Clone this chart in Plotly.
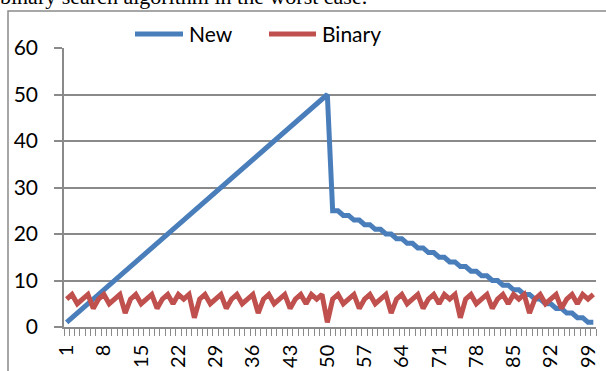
import plotly.graph_objects as go

# Position of the searched key in a sorted array of 100 elements
positions = list(range(1, 101))

# Worst-case comparisons of the proposed ("New") search
new_cmp = [
    1, 2, 3, 4, 5, 6, 7, 8, 9, 10,
    11, 12, 13, 14, 15, 16, 17, 18, 19, 20,
    21, 22, 23, 24, 25, 26, 27, 28, 29, 30,
    31, 32, 33, 34, 35, 36, 37, 38, 39, 40,
    41, 42, 43, 44, 45, 46, 47, 48, 49, 50,
    25, 25, 24, 24, 23, 23, 22, 22, 21, 21,
    20, 20, 19, 19, 18, 18, 17, 17, 16, 16,
    15, 15, 14, 14, 13, 13, 12, 12, 11, 11,
    10, 10, 9, 9, 8, 8, 7, 7, 6, 6,
    5, 5, 4, 4, 3, 3, 2, 2, 1, 1,
]

# Comparisons made by binary search for the same keys
binary_cmp = [
    6, 7, 5, 6, 7, 4, 6, 7, 5, 6,
    7, 3, 6, 7, 5, 6, 7, 4, 6, 7,
    5, 7, 6, 7, 2, 6, 7, 5, 6, 7,
    4, 6, 7, 5, 6, 7, 3, 6, 7, 5,
    6, 7, 4, 6, 7, 5, 7, 6, 7, 1,
    6, 7, 5, 6, 7, 4, 6, 7, 5, 6,
    7, 3, 6, 7, 5, 6, 7, 4, 6, 7,
    5, 7, 6, 7, 2, 6, 7, 5, 6, 7,
    4, 6, 7, 5, 7, 6, 7, 3, 6, 7,
    5, 6, 7, 4, 6, 7, 5, 7, 6, 7,
]

series_names = ["New", "Binary"]
series_colors = ["#4A7EBB", "#C0504D"]

x_tick_vals = positions[::7]
x_tick_text = [str(v) for v in x_tick_vals]
y_ticks = [0, 10, 20, 30, 40, 50, 60]

W, H = 606, 371
L, R, T, B = 64, 10, 48, 44
PW, PH = W - L - R, H - T - B

def px(X):
    return (X - L) / PW

def py(Y):
    return (H - B - Y) / PH

FONT = "Lato, 'Open Sans', sans-serif"
GRAY = "#8A8A8A"

fig = go.Figure()
for name, vals, col in zip(series_names, [new_cmp, binary_cmp], series_colors):
    fig.add_trace(go.Scatter(
        x=positions, y=vals, mode="lines", name=name,
        line=dict(color=col, width=5), showlegend=False,
    ))

shapes = []
annotations = []

# legend drawn as line samples plus labels
legend_items = [(135, 183, 187), (269, 316, 320)]
for (x0, x1, xt), name, col in zip(legend_items, series_names, series_colors):
    shapes.append(dict(type="line", xref="paper", yref="paper",
                       x0=px(x0), x1=px(x1), y0=py(34), y1=py(34),
                       line=dict(color=col, width=5)))
    annotations.append(dict(text=name, xref="paper", yref="paper",
                            x=px(xt), y=py(34), xanchor="left", yanchor="middle",
                            showarrow=False, font=dict(family=FONT, size=21, color="black")))

# chart frame
shapes.append(dict(type="rect", xref="paper", yref="paper",
                   x0=px(8), x1=px(640), y0=py(11), y1=py(420),
                   line=dict(color=GRAY, width=1.5), layer="below"))

# caption line of the page above the chart
annotations.append(dict(text="binary search algorithm in the worst case.",
                        xref="paper", yref="paper", x=px(-2), y=py(11),
                        xanchor="left", yanchor="bottom", showarrow=False,
                        font=dict(family="'Liberation Serif', 'Times New Roman', serif",
                                  size=22, color="black")))

fig.update_layout(
    width=W, height=H,
    margin=dict(l=L, r=R, t=T, b=B, autoexpand=False),
    paper_bgcolor="white", plot_bgcolor="white",
    shapes=shapes, annotations=annotations,
    font=dict(family=FONT, size=21, color="black"),
)

fig.update_xaxes(
    automargin=False,
    range=[0.5, 100.5],
    tickmode="array", tickvals=x_tick_vals, ticktext=x_tick_text,
    tickangle=-90, ticks="", ticklabelstandoff=8,
    showgrid=False, zeroline=False,
    showline=True, linecolor=GRAY, linewidth=1.5,
    minor=dict(ticks="outside", tickmode="linear", tick0=0.5, dtick=1,
               ticklen=7, tickcolor=GRAY, tickwidth=1, showgrid=False),
    tickfont=dict(family=FONT, size=20),
)

fig.update_yaxes(
    automargin=False,
    range=[0, 60], tickmode="array", tickvals=y_ticks,
    ticks="outside", ticklen=8, tickcolor=GRAY, tickwidth=1.5,
    ticklabelstandoff=12,
    showgrid=True, gridcolor=GRAY, gridwidth=1.5,
    zeroline=False, showline=True, linecolor=GRAY, linewidth=1.5,
    tickfont=dict(family=FONT, size=21),
)

fig.write_html("out.html")
